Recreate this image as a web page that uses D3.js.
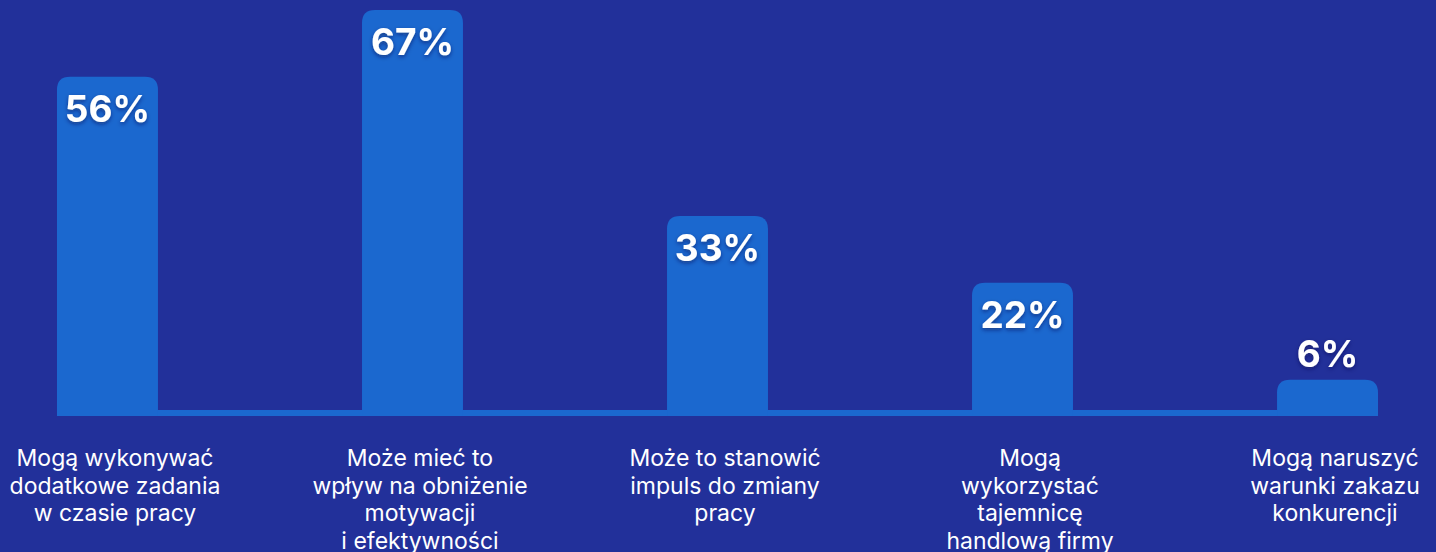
<!DOCTYPE html>
<html>
<head>
<meta charset="utf-8">
<script src="https://cdn.jsdelivr.net/npm/d3@7"></script>
<style>
    html, body { margin: 0; padding: 0; background: #22309a; }
    #chart-container svg { display: block; }
</style>
</head>
<body>
<div id="chart-container"></div>
<script>
// data
const categories = ['c1', 'c2', 'c3', 'c4', 'c5'];
const values = [56, 67, 33, 22, 6];
const labels = [
    ['Mogą wykonywać', 'dodatkowe zadania', 'w czasie pracy'],
    ['Może mieć to', 'wpływ na obniżenie', 'motywacji', 'i efektywności'],
    ['Może to stanowić', 'impuls do zmiany', 'pracy'],
    ['Mogą', 'wykorzystać', 'tajemnicę', 'handlową firmy'],
    ['Mogą naruszyć', 'warunki zakazu', 'konkurencji']
];

const width = 1436;
const height = 552;
const baseY = 416;
const barColor = '#1b68cf';

const svg = d3.select('#chart-container')
    .append('svg')
    .attr('width', width)
    .attr('height', height);

svg.append('rect')
    .attr('width', width)
    .attr('height', height)
    .attr('fill', '#22309a');

const defs = svg.append('defs');
const shadow = defs.append('filter')
    .attr('id', 'txt-shadow')
    .attr('x', '-20%').attr('y', '-20%')
    .attr('width', '140%').attr('height', '160%');
shadow.append('feDropShadow')
    .attr('dx', 0).attr('dy', 2)
    .attr('stdDeviation', 2)
    .attr('flood-color', '#0a1450')
    .attr('flood-opacity', 0.55);

// scales
const x = d3.scaleBand()
    .domain(categories)
    .range([57, 1378])
    .paddingInner(0.669);

const xLabel = d3.scalePoint()
    .domain(categories)
    .range([115, 1335]);

const y = d3.scaleLinear()
    .domain([0, 67])
    .range([baseY, 10]);

// baseline strip
svg.append('rect')
    .attr('x', x.range()[0])
    .attr('y', baseY - 6)
    .attr('width', x.range()[1] - x.range()[0])
    .attr('height', 6)
    .attr('fill', barColor);

// top-rounded bar path
const r = 13;
const barPath = (x0, y0, w, h) => {
    const rr = Math.min(r, h / 2, w / 2);
    return `M${x0},${y0 + h}V${y0 + rr}Q${x0},${y0} ${x0 + rr},${y0}` +
        `H${x0 + w - rr}Q${x0 + w},${y0} ${x0 + w},${y0 + rr}V${y0 + h}Z`;
};

svg.selectAll('.bar')
    .data(values)
    .join('path')
    .attr('class', 'bar')
    .attr('fill', barColor)
    .attr('d', (d, i) => barPath(x(categories[i]), y(d), x.bandwidth(), baseY - y(d)));

// value labels
svg.selectAll('.value')
    .data(values)
    .join('text')
    .attr('class', 'value')
    .attr('x', (d, i) => x(categories[i]) + x.bandwidth() / 2)
    .attr('y', d => (baseY - y(d) > 60 ? y(d) + 45 : y(d) - 13))
    .attr('text-anchor', 'middle')
    .attr('fill', '#ffffff')
    .attr('font-family', 'Inter, sans-serif')
    .attr('font-weight', 700)
    .attr('font-size', 37)
    .attr('filter', 'url(#txt-shadow)')
    .text(d => d + '%');

// category labels
const lab = svg.selectAll('.cat')
    .data(labels)
    .join('text')
    .attr('class', 'cat')
    .attr('text-anchor', 'middle')
    .attr('fill', '#ffffff')
    .attr('font-family', 'Inter, sans-serif')
    .attr('font-size', 23)
    .attr('font-weight', 400);

lab.selectAll('tspan')
    .data((d, i) => d.map(t => ({ t, i })))
    .join('tspan')
    .attr('x', d => xLabel(categories[d.i]))
    .attr('y', (d, j) => 466 + j * 27.5)
    .text(d => d.t);
</script>
</body>
</html>
